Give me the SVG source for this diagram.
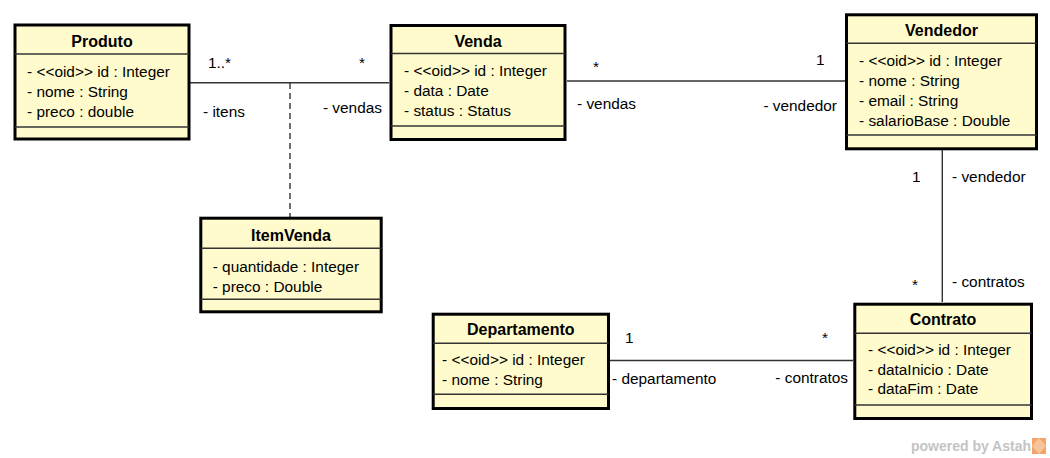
<svg xmlns="http://www.w3.org/2000/svg" width="1050" height="458" viewBox="0 0 1050 458">
<style>
.box{fill:#fffbcc;stroke:#000;stroke-width:3}
.sep{stroke:#333;stroke-width:1.5}
.title{font-family:"Liberation Sans",Arial,sans-serif;font-weight:bold;font-size:16px;fill:#000;text-anchor:middle}
.attr{font-family:"Liberation Sans",Arial,sans-serif;font-size:15.4px;fill:#000}
.lbl{font-family:"Liberation Sans",Arial,sans-serif;font-size:15.4px;fill:#000}
.conn{stroke:#333;stroke-width:1.4;fill:none}
.end{text-anchor:end}
</style>
<rect width="1050" height="458" fill="#fff"/>
<g id="connectors">
  <line class="conn" x1="190" y1="82.7" x2="389" y2="82.7"/>
  <line class="conn" x1="290" y1="83" x2="290" y2="217" stroke-dasharray="6,4"/>
  <line class="conn" x1="567" y1="81" x2="845" y2="81"/>
  <line class="conn" x1="942.3" y1="150" x2="942.3" y2="302"/>
  <line class="conn" x1="610" y1="360.5" x2="853" y2="360.5"/>
  <text class="lbl" x="208" y="68">1..*</text>
  <text class="lbl" x="359" y="68">*</text>
  <text class="lbl" x="203" y="117">- itens</text>
  <text class="lbl end" x="382" y="113">- vendas</text>
  <text class="lbl" x="593" y="72">*</text>
  <text class="lbl" x="816" y="65">1</text>
  <text class="lbl" x="577" y="109">- vendas</text>
  <text class="lbl end" x="837" y="111">- vendedor</text>
  <text class="lbl" x="912" y="182">1</text>
  <text class="lbl" x="952" y="182">- vendedor</text>
  <text class="lbl" x="912" y="290">*</text>
  <text class="lbl" x="952" y="287">- contratos</text>
  <text class="lbl" x="625" y="343">1</text>
  <text class="lbl" x="612" y="384">- departamento</text>
  <text class="lbl" x="822" y="343">*</text>
  <text class="lbl end" x="848" y="383">- contratos</text>
</g>
<g id="Produto">
  <rect class="box" x="15" y="25" width="174" height="114"/>
  <line class="sep" x1="15" y1="54" x2="189" y2="54"/>
  <line class="sep" x1="15" y1="127" x2="189" y2="127"/>
  <text class="title" x="102" y="47">Produto</text>
  <text class="attr" x="27" y="77">- &lt;&lt;oid&gt;&gt; id : Integer</text>
  <text class="attr" x="27" y="97">- nome : String</text>
  <text class="attr" x="27" y="117">- preco : double</text>
</g>
<g id="Venda">
  <rect class="box" x="391" y="25.5" width="174" height="114"/>
  <line class="sep" x1="391" y1="53.5" x2="565" y2="53.5"/>
  <line class="sep" x1="391" y1="126" x2="565" y2="126"/>
  <text class="title" x="478" y="47">Venda</text>
  <text class="attr" x="404" y="76">- &lt;&lt;oid&gt;&gt; id : Integer</text>
  <text class="attr" x="404" y="96">- data : Date</text>
  <text class="attr" x="404" y="116">- status : Status</text>
</g>
<g id="Vendedor">
  <rect class="box" x="846.5" y="14.8" width="190" height="134"/>
  <line class="sep" x1="846.5" y1="43.3" x2="1036.5" y2="43.3"/>
  <line class="sep" x1="846.5" y1="135" x2="1036.5" y2="135"/>
  <text class="title" x="941.5" y="36">Vendedor</text>
  <text class="attr" x="859" y="66">- &lt;&lt;oid&gt;&gt; id : Integer</text>
  <text class="attr" x="859" y="86">- nome : String</text>
  <text class="attr" x="859" y="106">- email : String</text>
  <text class="attr" x="859" y="126">- salarioBase : Double</text>
</g>
<g id="ItemVenda">
  <rect class="box" x="200.8" y="218.2" width="180.4" height="93.6"/>
  <line class="sep" x1="200.8" y1="248.3" x2="381.2" y2="248.3"/>
  <line class="sep" x1="200.8" y1="299.3" x2="381.2" y2="299.3"/>
  <text class="title" x="291" y="241">ItemVenda</text>
  <text class="attr" x="212.7" y="272">- quantidade : Integer</text>
  <text class="attr" x="212.7" y="292">- preco : Double</text>
</g>
<g id="Departamento">
  <rect class="box" x="433.2" y="314.2" width="175.3" height="94.3"/>
  <line class="sep" x1="433.2" y1="343.3" x2="608.5" y2="343.3"/>
  <line class="sep" x1="433.2" y1="394.3" x2="608.5" y2="394.3"/>
  <text class="title" x="520.8" y="335">Departamento</text>
  <text class="attr" x="442" y="365">- &lt;&lt;oid&gt;&gt; id : Integer</text>
  <text class="attr" x="442" y="385">- nome : String</text>
</g>
<g id="Contrato">
  <rect class="box" x="854.8" y="304.2" width="176.7" height="114.3"/>
  <line class="sep" x1="854.8" y1="333.3" x2="1031.5" y2="333.3"/>
  <line class="sep" x1="854.8" y1="405" x2="1031.5" y2="405"/>
  <text class="title" x="943" y="325">Contrato</text>
  <text class="attr" x="868" y="355">- &lt;&lt;oid&gt;&gt; id : Integer</text>
  <text class="attr" x="868" y="375">- dataInicio : Date</text>
  <text class="attr" x="868" y="394">- dataFim : Date</text>
</g>
<g id="watermark">
  <text x="1031" y="451" font-family="'Liberation Sans',Arial,sans-serif" font-weight="bold" font-size="14" fill="#c4c4c4" text-anchor="end">powered by Astah</text>
  <rect x="1032" y="438" width="14" height="16" fill="#f4a46a"/>
  <path d="M1032 446 L1039 438 L1046 446 L1039 454 Z" fill="#f7c49a"/>
</g>
</svg>
